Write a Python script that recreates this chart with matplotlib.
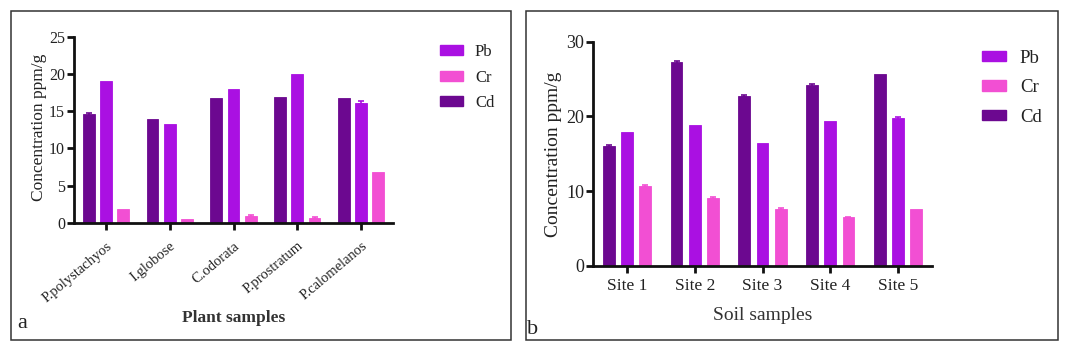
import matplotlib
matplotlib.use("Agg")
import matplotlib.pyplot as plt
import numpy as np
from matplotlib.patches import Rectangle, Patch

plt.rcParams['font.family'] = ['Liberation Serif', 'DejaVu Serif']

# ---- data ----
plants = ["P.polystachyos", "I.globose", "C.odorata", "P.prostratum", "P.calomelanos"]
plant_cd = [14.6, 14.0, 16.7, 16.9, 16.8]
plant_pb = [19.0, 13.3, 18.0, 20.0, 16.1]
plant_cr = [1.85, 0.5, 0.95, 0.68, 6.8]
plant_cd_err = [0.2, 0.0, 0.0, 0.0, 0.0]
plant_pb_err = [0.0, 0.0, 0.0, 0.0, 0.2]
plant_cr_err = [0.0, 0.0, 0.15, 0.12, 0.0]

sites = ["Site 1", "Site 2", "Site 3", "Site 4", "Site 5"]
soil_cd = [16.05, 27.25, 22.7, 24.2, 25.7]
soil_pb = [17.9, 18.9, 16.45, 19.35, 19.75]
soil_cr = [10.75, 9.1, 7.6, 6.5, 7.65]
soil_cd_err = [0.2, 0.2, 0.15, 0.2, 0.0]
soil_pb_err = [0.0, 0.0, 0.0, 0.0, 0.2]
soil_cr_err = [0.15, 0.15, 0.15, 0.12, 0.0]

C_PB = "#AA10E2"
C_CR = "#F24FD3"
C_CD = "#6C0890"

W, H = 1071, 354
fig = plt.figure(figsize=(W / 100, H / 100), dpi=100)

def fx(px):
    return px / W

def fy(py):
    return 1 - py / H

# panel frames
for (x0, y0, x1, y1) in [(11, 11, 510.5, 340), (526, 11, 1057.5, 340)]:
    fig.patches.append(Rectangle((fx(x0), fy(y1)), fx(x1 - x0), (y1 - y0) / H,
                                 transform=fig.transFigure, fill=False,
                                 edgecolor="#333333", linewidth=1.1))


def draw(ax, cats, cd, pb, cr, cde, pbe, cre, width, ymax, ystep, tickfs):
    x = np.arange(len(cats))
    off = 0.27
    for vals, errs, col, dx in [(cd, cde, C_CD, -off), (pb, pbe, C_PB, 0.0), (cr, cre, C_CR, off)]:
        ax.bar(x + dx, vals, width=width, color=col, edgecolor=col, linewidth=0.6, zorder=2)
        e = np.array(errs)
        m = e > 0
        ax.errorbar((x + dx)[m], np.array(vals)[m], yerr=e[m], fmt="none",
                    ecolor=col, elinewidth=1.2, capsize=2.5, capthick=1.2, zorder=3)
    ax.set_xlim(-0.5, len(cats) - 0.5)
    ax.set_ylim(0, ymax)
    ax.set_yticks(np.arange(0, ymax + 0.1, ystep))
    ax.set_xticks(x)
    for s in ["top", "right"]:
        ax.spines[s].set_visible(False)
    for s in ["left", "bottom"]:
        ax.spines[s].set_linewidth(2.0)
        ax.spines[s].set_color("#111111")
    ax.tick_params(axis="both", which="major", length=5, width=2.0, color="#111111",
                   labelsize=tickfs, labelcolor="#222222", pad=1.5)


# panel a
axa = fig.add_axes([fx(74), fy(222.7), fx(393 - 74), (222.7 - 36.7) / H])
draw(axa, plants, plant_cd, plant_pb, plant_cr, plant_cd_err, plant_pb_err, plant_cr_err,
     0.186, 25, 5, 11.5)
axa.set_xticklabels(plants, rotation=40, ha="right", rotation_mode="anchor", fontsize=10.5)
axa.tick_params(axis="x", pad=7)
fig.text(fx(39), fy(127), "Concentration ppm/g", rotation=90, ha="center", va="center",
         fontsize=12.5, color="#222222")
fig.text(fx(234), fy(318), "Plant samples", ha="center", va="center",
         fontsize=12.5, fontweight="bold", color="#333333")
fig.text(fx(17), fy(323), "a", ha="left", va="center", fontsize=16, color="#222222")
axa.legend(handles=[Patch(color=C_PB, label="Pb"), Patch(color=C_CR, label="Cr"),
                    Patch(color=C_CD, label="Cd")],
           loc="upper left", bbox_to_anchor=(fx(425), fy(29)), bbox_transform=fig.transFigure,
           frameon=False, fontsize=12, handlelength=1.38, handleheight=0.54,
           handletextpad=0.72, labelspacing=0.57, labelcolor="#222222")

# panel b
axb = fig.add_axes([fx(593.3), fy(266), fx(931.7 - 593.3), (266 - 41.7) / H])
draw(axb, sites, soil_cd, soil_pb, soil_cr, soil_cd_err, soil_pb_err, soil_cr_err,
     0.175, 30, 10, 13)
axb.set_xticklabels(sites, fontsize=12.5)
axb.tick_params(axis="x", pad=4)
fig.text(fx(554), fy(154), "Concentration ppm/g", rotation=90, ha="center", va="center",
         fontsize=14, color="#222222")
fig.text(fx(763), fy(315), "Soil samples", ha="center", va="center",
         fontsize=14, color="#333333")
fig.text(fx(527), fy(330), "b", ha="left", va="center", fontsize=16, color="#222222")
axb.legend(handles=[Patch(color=C_PB, label="Pb"), Patch(color=C_CR, label="Cr"),
                    Patch(color=C_CD, label="Cd")],
           loc="upper left", bbox_to_anchor=(fx(965), fy(33)), bbox_transform=fig.transFigure,
           frameon=False, fontsize=13.5, handlelength=1.28, handleheight=0.48,
           handletextpad=0.75, labelspacing=0.66, labelcolor="#222222")

fig.savefig("out.png", dpi=100, facecolor="white")
